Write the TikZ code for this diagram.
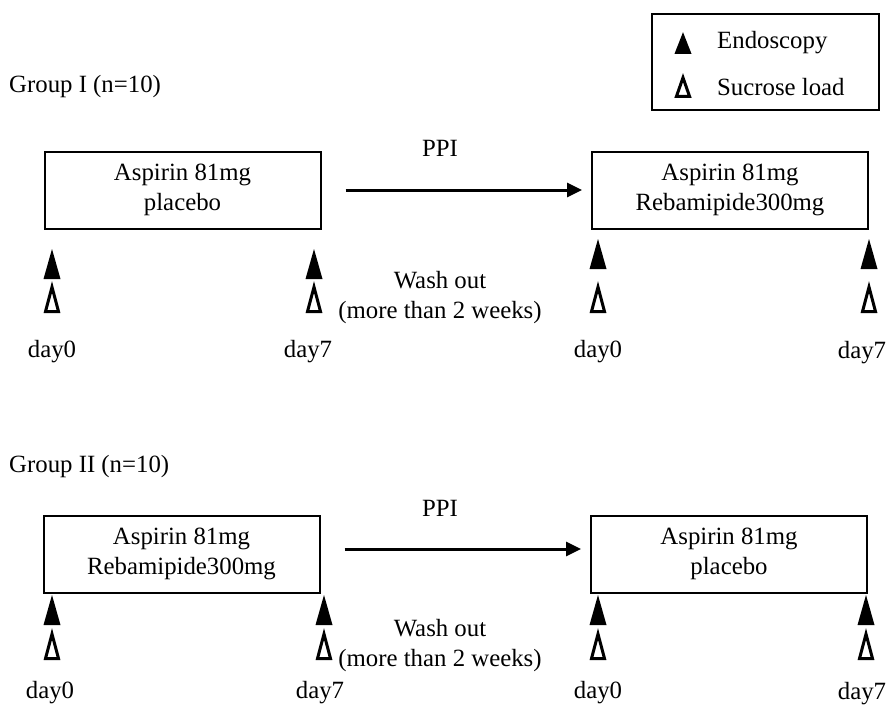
\documentclass[tikz,border=0pt]{standalone}
\usepackage{fontspec}
\setmainfont{Liberation Serif}
\usetikzlibrary{arrows.meta}

\tikzset{
  every node/.style={inner sep=0pt, font=\fontsize{24.8}{30}\selectfont},
  armbox/.style={draw, line width=2pt, minimum width=276pt, minimum height=77pt, align=center},
  legbox/.style={draw, line width=2pt, minimum width=227pt, minimum height=96pt},
  flow/.style={line width=3pt, -{Triangle[length=15pt,width=14pt]}},
  endo/.pic={\fill (-8.5,15) -- (0,-15) -- (8.5,15) -- cycle;},
  sucrose/.pic={\draw[line width=3pt] (-6.5,13.5) -- (0,-11) -- (6.5,13.5) -- cycle;}
}

\begin{document}
\begin{tikzpicture}[x=1pt,y=-1pt]
    \useasboundingbox (0,0) rectangle (889,705);
    % legend
    \node[legbox] (leg) at (765.5,62) {};
    \pic[yscale=0.72] at (683,43) {endo};
    \pic[yscale=0.76] at (683,86) {sucrose};
    \node[anchor=west] (legendo) at (717,43) {Endoscopy};
    \node[anchor=west] (legsuc) at (717,87) {Sucrose load};
    % group I
    \node[anchor=west] (grpI) at (9,87) {Group I (n=10)};
    \node[armbox] (b1) at (182.5,190) {Aspirin 81mg\\placebo};
    \node[armbox] (b2) at (730,190) {Aspirin 81mg\\Rebamipide300mg};
    \draw[flow] ([xshift=24pt]b1.east) -- ([xshift=-9pt]b2.west);
    \node (ppiI) at (440,148) {PPI};
    \node[align=center] (washI) at (440,298) {Wash out\\(more than 2 weeks)};
    \foreach \x/\yf in {52/264, 314/264, 598/254, 869/254}{
        \pic at (\x,\yf) {endo};
        \pic at (\x,298) {sucrose};
    }
    \node (d0a) at (52,352) {day0};
    \node (d7a) at (308,352) {day7};
    \node (d0b) at (598,352) {day0};
    \node (d7b) at (862,353) {day7};
    % group II
    \node[anchor=west] (grpII) at (9,467) {Group II (n=10)};
    \node[armbox] (b3) at (181.5,554) {Aspirin 81mg\\Rebamipide300mg};
    \node[armbox] (b4) at (729,554) {Aspirin 81mg\\placebo};
    \draw[flow] ([xshift=24pt,yshift=5pt]b3.east) -- ([xshift=-9pt,yshift=5pt]b4.west);
    \node (ppiII) at (440,508) {PPI};
    \node[align=center] (washII) at (440,646) {Wash out\\(more than 2 weeks)};
    \foreach \x in {52, 324, 598, 866}{
        \pic at (\x,610) {endo};
        \pic at (\x,645) {sucrose};
    }
    \node (d0c) at (50,693) {day0};
    \node (d7c) at (320,693) {day7};
    \node (d0d) at (598,693) {day0};
    \node (d7d) at (862,694) {day7};
\end{tikzpicture}
\end{document}
